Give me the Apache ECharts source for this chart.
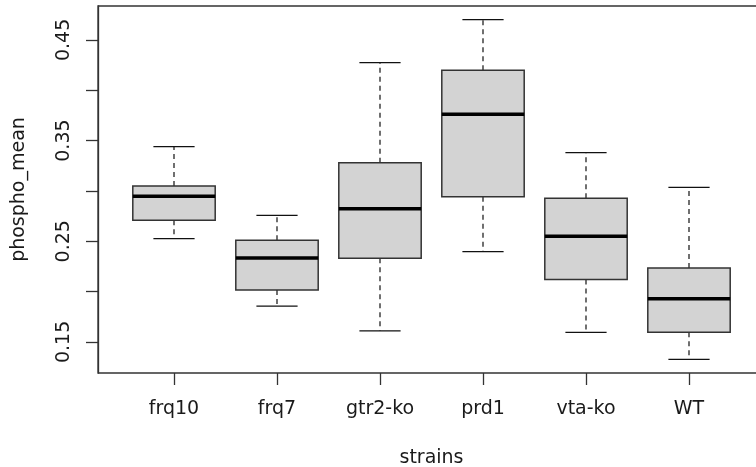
<!DOCTYPE html>
<html>
<head>
<meta charset="utf-8">
<script src="https://cdn.jsdelivr.net/npm/echarts@6/dist/echarts.min.js"></script>
<style>
html,body{margin:0;padding:0;background:#fff;}
#chart{width:756px;height:467px;}
</style>
</head>
<body>
<div id="chart"></div>
<script>
// ---- data ----
const categories   = ['frq10', 'frq7', 'gtr2-ko', 'prd1', 'vta-ko', 'WT'];
const lowWhisker   = [0.2525, 0.1856, 0.1610, 0.2396, 0.1595, 0.1326];
const q1Values     = [0.2708, 0.2015, 0.2330, 0.2942, 0.2121, 0.1595];
const medianValues = [0.2946, 0.2333, 0.2823, 0.3761, 0.2549, 0.1928];
const q3Values     = [0.3049, 0.2509, 0.3280, 0.4199, 0.2926, 0.2233];
const highWhisker  = [0.3440, 0.2757, 0.4275, 0.4702, 0.3380, 0.3036];
const yTickValues  = [0.15, 0.20, 0.25, 0.30, 0.35, 0.40, 0.45];
const yLabelValues = [0.15, 0.25, 0.35, 0.45];
const yMin = 0.1191, yMax = 0.4837;

const seriesData = categories.map((c, i) => [i, lowWhisker[i], q1Values[i], medianValues[i], q3Values[i], highWhisker[i]]);

const FONT = 'DejaVu Sans';
const TXT = '#1a1a1a';
const LINE = '#333333';

function renderItem(params, api) {
  const idx = api.value(0);
  const band = api.size([1, 0])[0];
  const boxW = band * 0.8;
  const capW = boxW / 2;
  const pLow = api.coord([idx, api.value(1)]);
  const pQ1 = api.coord([idx, api.value(2)]);
  const pMed = api.coord([idx, api.value(3)]);
  const pQ3 = api.coord([idx, api.value(4)]);
  const pHigh = api.coord([idx, api.value(5)]);
  const cx = pMed[0];
  const dashStyle = { stroke: '#111', lineWidth: 1.2, lineDash: [5, 4] };
  const solid = { stroke: '#111', lineWidth: 1.2 };
  return {
    type: 'group',
    children: [
      { type: 'line', shape: { x1: cx, y1: pQ3[1], x2: cx, y2: pHigh[1] }, style: dashStyle },
      { type: 'line', shape: { x1: cx, y1: pQ1[1], x2: cx, y2: pLow[1] }, style: dashStyle },
      { type: 'line', shape: { x1: cx - capW / 2, y1: pHigh[1], x2: cx + capW / 2, y2: pHigh[1] }, style: solid },
      { type: 'line', shape: { x1: cx - capW / 2, y1: pLow[1], x2: cx + capW / 2, y2: pLow[1] }, style: solid },
      { type: 'rect', shape: { x: cx - boxW / 2, y: pQ3[1], width: boxW, height: pQ1[1] - pQ3[1] },
        style: { fill: '#d3d3d3', stroke: '#333', lineWidth: 1.5 } },
      { type: 'line', shape: { x1: cx - boxW / 2, y1: pMed[1], x2: cx + boxW / 2, y2: pMed[1] },
        style: { stroke: '#000', lineWidth: 3.5 } }
    ]
  };
}

const chart = echarts.init(document.getElementById('chart'), null, { renderer: 'canvas' });
chart.setOption({
  animation: false,
  backgroundColor: '#ffffff',
  grid: [
    { left: 98, top: 6, width: 667, height: 367, show: true, borderColor: LINE, borderWidth: 1.3,
      backgroundColor: 'transparent', outerBoundsMode: 'none', containLabel: false },
    { left: 122.5, top: 6, width: 618, height: 367, outerBoundsMode: 'none', containLabel: false }
  ],
  xAxis: [
    { gridIndex: 0, type: 'value', min: 0, max: 1, show: false },
    {
      gridIndex: 1, type: 'category', data: categories,
      name: 'strains', nameLocation: 'middle', nameGap: 76,
      nameTextStyle: { fontFamily: FONT, fontSize: 19, color: TXT },
      axisLine: { show: false },
      axisTick: { show: true, alignWithLabel: true, length: 12, lineStyle: { color: LINE, width: 1.3 } },
      axisLabel: { fontFamily: FONT, fontSize: 19, color: TXT, margin: 27 },
      splitLine: { show: false }
    }
  ],
  yAxis: [
    {
      gridIndex: 0, type: 'value', min: yMin, max: yMax,
      name: 'phospho_mean', nameLocation: 'middle', nameGap: 69, nameRotate: 90,
      nameTextStyle: { fontFamily: FONT, fontSize: 19, color: TXT },
      axisLine: { show: true, lineStyle: { color: LINE, width: 1.3 } },
      axisTick: { show: true, length: 12, customValues: yTickValues, lineStyle: { color: LINE, width: 1.3 } },
      axisLabel: { show: true, rotate: 90, margin: 24, customValues: yLabelValues,
        fontFamily: FONT, fontSize: 19, color: TXT,
        formatter: v => Number(v).toFixed(2) },
      splitLine: { show: false }
    },
    { gridIndex: 1, type: 'value', min: yMin, max: yMax, show: false, splitLine: { show: false } }
  ],
  series: [
    {
      type: 'custom',
      xAxisIndex: 1, yAxisIndex: 1,
      renderItem: renderItem,
      encode: { x: 0, y: [1, 2, 3, 4, 5] },
      data: seriesData
    }
  ]
});
</script>
</body>
</html>
